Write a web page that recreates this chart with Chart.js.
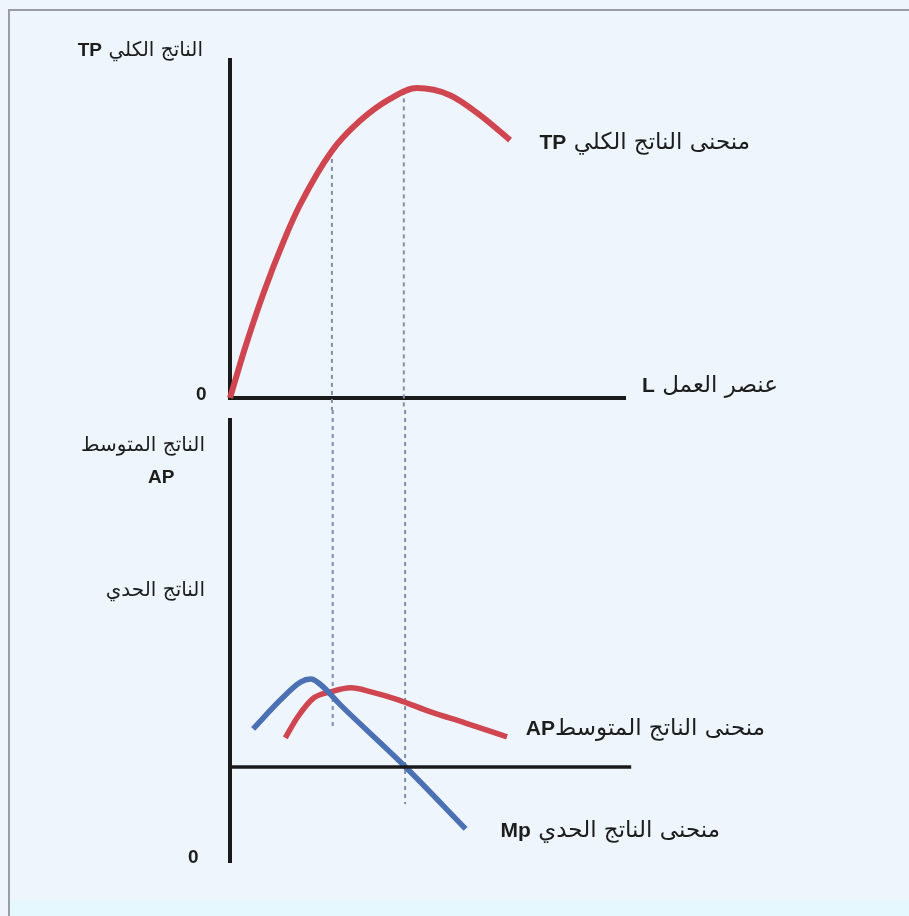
<!DOCTYPE html>
<html lang="ar">
<head>
<meta charset="utf-8">
<script src="https://cdn.jsdelivr.net/npm/chart.js@4"></script>
<style>
  html, body { margin: 0; padding: 0; }
  body { width: 909px; height: 916px; background: #eef5fc; position: relative; overflow: hidden; font-family: "DejaVu Sans", sans-serif; }
  .frame { position: absolute; left: 8px; top: 9px; width: 920px; height: 920px; border-top: 2px solid #9a9ea4; border-left: 2px solid #9a9ea4; }
  .foot { position: absolute; left: 10px; right: 0; top: 900px; bottom: 0; background: #e4f8fd; }
  canvas { position: absolute; left: 0; }
  .lbl { position: absolute; white-space: nowrap; color: #1d1d1d; font-size: 23px; line-height: 1; }
  .lbl b { font-family: "Liberation Sans", Arial, sans-serif; font-weight: bold; font-size: 21px; }
  .side { font-size: 20px; }
  .side b { font-size: 19px; }
</style>
</head>
<body>
<div class="frame"></div>
<div class="foot"></div>
<canvas id="tpChart" width="909" height="410" style="top:0"></canvas>
<canvas id="apChart" width="909" height="506" style="top:410px"></canvas>

<div class="lbl side" dir="rtl" style="right:706px; top:39px">الناتج الكلي <b>TP</b></div>
<div class="lbl side" style="left:196px; top:383px"><b>0</b></div>
<div class="lbl" dir="rtl" style="right:131px; top:373px">عنصر العمل <b>L</b></div>
<div class="lbl" dir="rtl" style="right:159px; top:130px">منحنى الناتج الكلي <b>TP</b></div>
<div class="lbl side" dir="rtl" style="right:704px; top:434px">الناتج المتوسط</div>
<div class="lbl side" style="left:148px; top:466px"><b>AP</b></div>
<div class="lbl side" dir="rtl" style="right:704px; top:579px">الناتج الحدي</div>
<div class="lbl" dir="rtl" style="right:144px; top:716px">منحنى الناتج المتوسط<b>AP</b></div>
<div class="lbl" dir="rtl" style="right:189px; top:818px">منحنى الناتج الحدي <b>Mp</b></div>
<div class="lbl side" style="left:188px; top:846px"><b>0</b></div>

<script>
// labour input (x) and output values
const tpL = [0, 3.8, 8.4, 13.9, 17.7, 25.8, 32.9, 40.5, 47.3, 55.7, 63.3, 70.9];
const tpVal = [0, 14.8, 30.8, 47.3, 57.1, 73.1, 82.0, 88.5, 91.7, 89.6, 83.7, 76.3];

const apL = [13.9, 17.0, 21.0, 25.3, 30.4, 35.4, 42.3, 50.6, 59.0, 69.6];
const apVal = [6.6, 11.3, 15.6, 17.0, 17.9, 17.0, 15.2, 12.4, 10.0, 6.8];

const mpL = [5.8, 12.7, 17.7, 20.3, 22.8, 27.8, 44.1, 59.2];
const mpVal = [8.6, 15.2, 19.2, 19.9, 18.6, 14.0, 0, -14.0];

// horizontal axis of the lower panel
const zeroL = [0, 100.8];
const zeroVal = [0, 0];

// dashed guides: where they sit on L, where they start on TP, where they stop below
const guideL = [25.8, 44.0];
const guideTopFrom = [73.1, 91.0];
const guideBottomTo = [9.0, -8.4];

const RED = '#d04650';
const BLUE = '#4b70b4';
const INK = '#1a1a1a';

function pts(xs, ys) {
    return xs.map((x, i) => ({ x: x, y: ys[i] }));
}

// draws the dotted guide lines on each panel
const guidePlugin = {
    id: 'guides',
    beforeDatasetsDraw(chart, args, opts) {
        const ctx = chart.ctx;
        const xs = chart.scales.x, ys = chart.scales.y;
        ctx.save();
        ctx.strokeStyle = '#7d8db0';
        ctx.lineWidth = 2;
        ctx.setLineDash([4, 4]);
        guideL.forEach((l, i) => {
            const px = xs.getPixelForValue(l);
            const from = opts.from ? ys.getPixelForValue(opts.from[i]) : 0;
            const to = opts.to ? ys.getPixelForValue(opts.to[i]) : chart.height;
            ctx.beginPath();
            ctx.moveTo(px, from);
            ctx.lineTo(px, to);
            ctx.stroke();
        });
        ctx.restore();
    }
};

const lineStyle = { fill: false, pointRadius: 0, borderWidth: 6, cubicInterpolationMode: 'monotone', clip: 8, borderCapStyle: 'butt' };

// Top panel: total product
new Chart(document.getElementById('tpChart'), {
    type: 'line',
    data: {
        datasets: [
            Object.assign({ data: pts(tpL, tpVal), borderColor: RED }, lineStyle)
        ]
    },
    options: {
        responsive: false,
        animation: false,
        layout: { padding: { left: 230, top: 60, right: 284, bottom: 12 } },
        plugins: { legend: { display: false }, tooltip: { enabled: false }, guides: { from: guideTopFrom } },
        scales: {
            x: { type: 'linear', min: 0, max: 100, grid: { display: false, drawTicks: false }, ticks: { display: false }, border: { display: true, width: 4, color: INK } },
            y: { min: 0, max: 100, grid: { display: false, drawTicks: false }, ticks: { display: false }, border: { display: true, width: 4, color: INK } }
        }
    },
    plugins: [guidePlugin]
});

// Bottom panel: average and marginal product
new Chart(document.getElementById('apChart'), {
    type: 'line',
    data: {
        datasets: [
            { data: pts(zeroL, zeroVal), borderColor: INK, borderWidth: 3.5, pointRadius: 0, fill: false, clip: 8 },
            Object.assign({ data: pts(mpL, mpVal), borderColor: BLUE }, lineStyle, { borderWidth: 5.5 }),
            Object.assign({ data: pts(apL, apVal), borderColor: RED }, lineStyle, { borderWidth: 5.5 })
        ]
    },
    options: {
        responsive: false,
        animation: false,
        layout: { padding: { left: 230, top: 10, right: 281, bottom: 54 } },
        plugins: { legend: { display: false }, tooltip: { enabled: false }, guides: { to: guideBottomTo } },
        scales: {
            x: { type: 'linear', min: 0, max: 100, display: false },
            y: {
                min: -21.5, max: 78.5,
                grid: { display: false, drawTicks: false },
                ticks: { display: false },
                border: { display: true, width: 4, color: INK }
            }
        }
    },
    plugins: [guidePlugin]
});
</script>
</body>
</html>
